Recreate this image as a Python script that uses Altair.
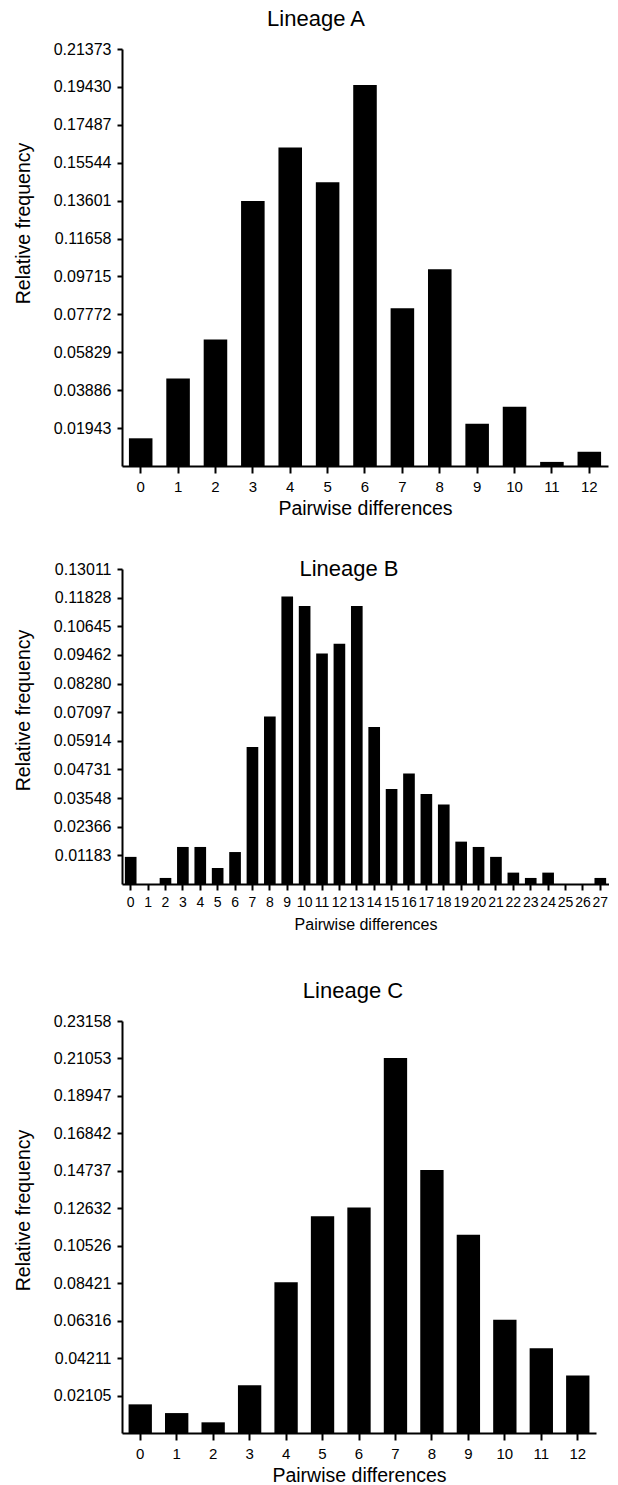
import altair as alt
import pandas as pd

FONT = "Liberation Sans"

# ---- data ----
diffs_a = list(range(13))
freq_a = [0.0142, 0.0449, 0.0649, 0.1358, 0.1633, 0.1454, 0.1953, 0.0808,
          0.1008, 0.0217, 0.0304, 0.0021, 0.0073]
tick_step_a = 0.01943

diffs_b = list(range(28))
freq_b = [0.0112, 0.0, 0.0025, 0.0153, 0.0153, 0.0066, 0.0132, 0.0566,
          0.0692, 0.1188, 0.1148, 0.0952, 0.0992, 0.1148, 0.0648, 0.0392,
          0.0456, 0.0372, 0.0328, 0.0175, 0.0153, 0.0112, 0.0047, 0.0025,
          0.0047, 0.0, 0.0, 0.0025]
tick_step_b = 0.011828

diffs_c = list(range(13))
freq_c = [0.0161, 0.0112, 0.0060, 0.0268, 0.0847, 0.1218, 0.1267, 0.2108,
          0.1478, 0.1115, 0.0637, 0.0476, 0.0323]
tick_step_c = 0.0210526


def panel(diffs, freqs, step, title, width, height, title_dx, title_offset,
          ytitle_y, xlabel_size, xtick, xlabel_pad, xtitle_size, xtitle_y,
          pad_inner):
    df = pd.DataFrame({"diff": diffs, "freq": freqs})
    ticks = [step * k for k in range(1, 12)]
    return alt.Chart(
        df,
        title=alt.TitleParams(
            title, fontSize=22, font=FONT, fontWeight="normal", color="black",
            anchor="middle", frame="group", dx=title_dx, offset=title_offset,
            baseline="middle"),
    ).mark_bar(color="black").encode(
        x=alt.X(
            "diff:O", title="Pairwise differences",
            scale=alt.Scale(paddingInner=pad_inner, paddingOuter=pad_inner / 2),
            axis=alt.Axis(
                labelAngle=0, labelFontSize=xlabel_size, labelFont=FONT,
                labelColor="black", labelPadding=xlabel_pad, labelOverlap=False,
                tickSize=xtick, tickWidth=2, tickColor="black",
                domainColor="black", domainWidth=2,
                titleFont=FONT, titleFontSize=xtitle_size,
                titleFontWeight="normal", titleColor="black",
                titleY=xtitle_y, titleBaseline="top"),
        ),
        y=alt.Y(
            "freq:Q", title="Relative frequency",
            scale=alt.Scale(domain=[0, step * 11], nice=False, zero=True),
            axis=alt.Axis(
                values=ticks, format=".5f", grid=False,
                labelFontSize=16, labelFont=FONT, labelColor="black",
                labelPadding=6, tickSize=5, tickWidth=2, tickColor="black",
                domainColor="black", domainWidth=2,
                titleFont=FONT, titleFontSize=19.5, titleFontWeight="normal",
                titleColor="black", titleX=-92.5, titleY=ytitle_y,
                titleAngle=270, titleAlign="center",
                titleBaseline="alphabetic"),
        ),
    ).properties(width=width, height=height)


def spacer(h):
    return alt.Chart(pd.DataFrame({"s": [0]})).mark_point(opacity=0).encode(
        x=alt.X("s:Q", axis=None), y=alt.Y("s:Q", axis=None)
    ).properties(width=1, height=h)


chart_a = panel(diffs_a, freq_a, tick_step_a, "Lineage A", 486, 417,
                -49, -0.3, 174, 15, 7, 6.5, 19.5, 33.6, 0.37)
chart_b = panel(diffs_b, freq_b, tick_step_b, "Lineage B", 487, 315,
                -16.5, -29.7, 141, 14, 6, 5.7, 16, 32.7, 0.33)
chart_c = panel(diffs_c, freq_c, tick_step_c, "Lineage C", 474, 412,
                -6, 0.3, 189, 15, 7, 6.8, 19.5, 33.9, 0.36)

chart = alt.vconcat(
    chart_a, spacer(103), chart_b, spacer(136.7), chart_c,
    spacing=0, bounds="flush",
).configure_view(stroke=None).properties(
    padding={"left": 5, "top": 0, "right": 0, "bottom": 0}
)

chart.save("out.html", embed_options={"renderer": "svg", "actions": False})
